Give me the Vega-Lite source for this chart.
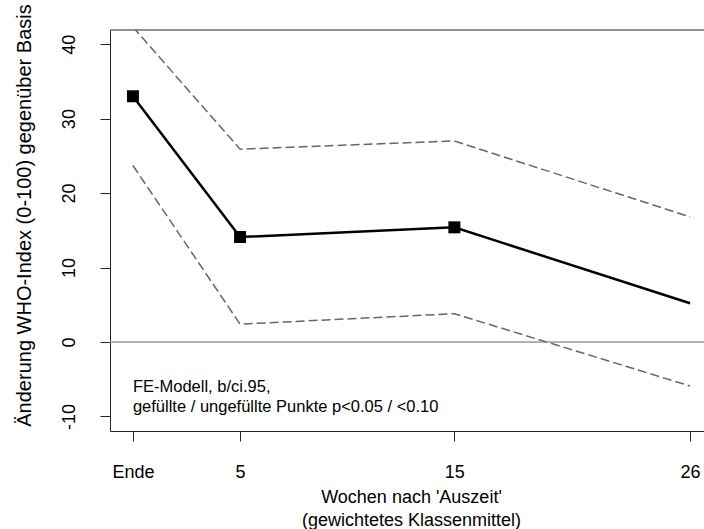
{
  "$schema": "https://vega.github.io/schema/vega-lite/v6.json",
  "width": 594,
  "height": 401,
  "autosize": {"type": "none"},
  "padding": {"left": 110, "top": 30, "right": 0, "bottom": 98},
  "background": "white",
  "config": {
    "view": {"stroke": null},
    "font": "Liberation Sans",
    "axis": {"grid": false, "domainColor": "#222", "tickColor": "#222", "domainWidth": 1, "tickWidth": 1, "labelColor": "black", "titleColor": "black", "labelFont": "Liberation Sans", "titleFont": "Liberation Sans", "titleFontWeight": "normal"}
  },
  "data": {
    "values": [
      {"week": 0, "b": 33.0, "lo": 23.7, "hi": 42.3, "filled": true},
      {"week": 5, "b": 14.1, "lo": 2.4, "hi": 25.9, "filled": true},
      {"week": 15, "b": 15.4, "lo": 3.8, "hi": 27.0, "filled": true},
      {"week": 26, "b": 5.2, "lo": -5.9, "hi": 16.8, "filled": false}
    ]
  },
  "encoding": {
    "x": {
      "field": "week", "type": "quantitative",
      "scale": {"domain": [-1.07, 26.65], "nice": false, "zero": false},
      "axis": {
        "values": [0, 5, 15, 26],
        "labelExpr": "datum.value == 0 ? 'Ende' : datum.label",
        "labelFontSize": 18, "tickSize": 10, "labelPadding": 36, "labelBaseline": "alphabetic",
        "labelFlush": false, "labelOverlap": false,
        "title": ["Wochen nach 'Auszeit'", "(gewichtetes Klassenmittel)"],
        "titleFontSize": 18, "titleLineHeight": 23, "titleBaseline": "alphabetic",
        "titleAnchor": "start", "titleAlign": "center", "titleX": 301, "titleY": 71
      }
    }
  },
  "layer": [
    {
      "data": {"values": [{"level": 0}]},
      "mark": {"type": "rule", "color": "#999999", "strokeWidth": 1.5},
      "encoding": {"x": null, "y": {"field": "level", "type": "quantitative"}}
    },
    {
      "data": {"values": [{"level": 41.9}]},
      "mark": {"type": "rule", "color": "#222", "strokeWidth": 1},
      "encoding": {"x": null, "y": {"field": "level", "type": "quantitative"}}
    },
    {
      "mark": {"type": "line", "color": "#666666", "strokeWidth": 1.5, "strokeDash": [9, 4], "clip": true},
      "encoding": {
        "y": {
          "field": "hi", "type": "quantitative",
          "scale": {"domain": [-11.95, 41.9], "nice": false, "zero": false},
          "axis": {
            "values": [-10, 0, 10, 20, 30, 40],
            "labelExpr": "'' + datum.value",
            "labelFontSize": 18, "tickSize": 10, "labelPadding": 26,
            "labelAngle": 270, "labelAlign": "center", "labelBaseline": "alphabetic",
            "title": "Änderung WHO-Index (0-100) gegenüber Basis",
            "titleFontSize": 20, "titleAngle": 270, "titleAlign": "center", "titleBaseline": "alphabetic",
            "titleAnchor": "start", "titleX": -80, "titleY": 185
          }
        }
      }
    },
    {
      "mark": {"type": "line", "color": "#666666", "strokeWidth": 1.5, "strokeDash": [9, 4], "clip": true},
      "encoding": {"y": {"field": "lo", "type": "quantitative"}}
    },
    {
      "mark": {"type": "line", "color": "black", "strokeWidth": 2.5},
      "encoding": {"y": {"field": "b", "type": "quantitative"}}
    },
    {
      "transform": [{"filter": "datum.filled"}],
      "mark": {"type": "point", "shape": "square", "filled": true, "color": "black", "size": 144, "opacity": 1},
      "encoding": {"y": {"field": "b", "type": "quantitative"}}
    },
    {
      "data": {"values": [{"week": 0, "pos": -6.7}]},
      "mark": {"type": "text", "align": "left", "baseline": "alphabetic", "fontSize": 16.5, "fontWeight": "normal", "lineHeight": 20, "color": "black"},
      "encoding": {
        "x": {"field": "week", "type": "quantitative"},
        "y": {"field": "pos", "type": "quantitative"},
        "text": {"value": ["FE-Modell, b/ci.95,", "gefüllte / ungefüllte Punkte p<0.05 / <0.10"]}
      }
    }
  ]
}
